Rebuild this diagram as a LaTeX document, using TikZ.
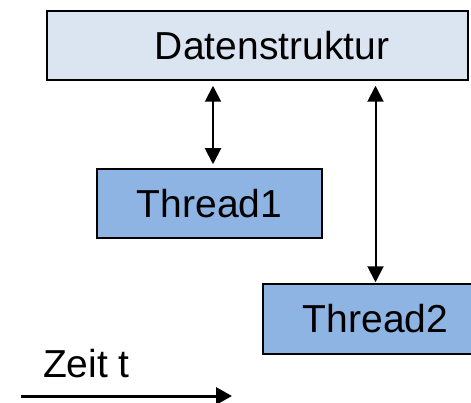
\documentclass[tikz,border=0pt]{standalone}
\usepackage{fontspec}
\setmainfont{Liberation Sans}
\usepackage{xcolor}
\usetikzlibrary{arrows.meta}

\definecolor{datafill}{HTML}{DBE5F1}
\definecolor{threadfill}{HTML}{8EB4E3}

\begin{document}
\begin{tikzpicture}[x=1pt,y=1pt,
    box/.style={draw, line width=1.5pt, inner sep=0pt, font=\fontsize{39}{47}\selectfont},
    conn/.style={line width=2pt, {Triangle[length=16pt,width=16pt]}-{Triangle[length=16pt,width=16pt]}}]
    \clip (0,0) rectangle (471,402);

    % Data structure
    \node[box, fill=datafill, minimum width=421pt, minimum height=69pt] (data) at (257.5,356.5) {\hspace*{29pt}Datenstruktur};

    % Threads
    \node[box, fill=threadfill, minimum width=225pt, minimum height=69pt] (t1) at (209.5,198.5) {Thread1};
    \node[box, fill=threadfill, minimum width=225pt, minimum height=70pt] (t2) at (375.5,83) {Thread2};

    % Access arrows
    \draw[conn, shorten <=4pt, shorten >=5pt] ([xshift=3.5pt]t1.north) -- ([xshift=3.5pt]t1.north |- data.south);
    \draw[conn, shorten <=1pt, shorten >=5pt] (t2.north) -- (t2.north |- data.south);

    % Time axis
    \node[anchor=base west, font=\fontsize{39}{47}\selectfont] (zeit) at (39.5,25) {Zeit t};
    \coordinate (t0) at (21,6);
    \coordinate (t9) at (232,6);
    \draw[line width=3pt, -{Triangle[length=16pt,width=17pt]}] (t0) -- (t9);
\end{tikzpicture}
\end{document}
